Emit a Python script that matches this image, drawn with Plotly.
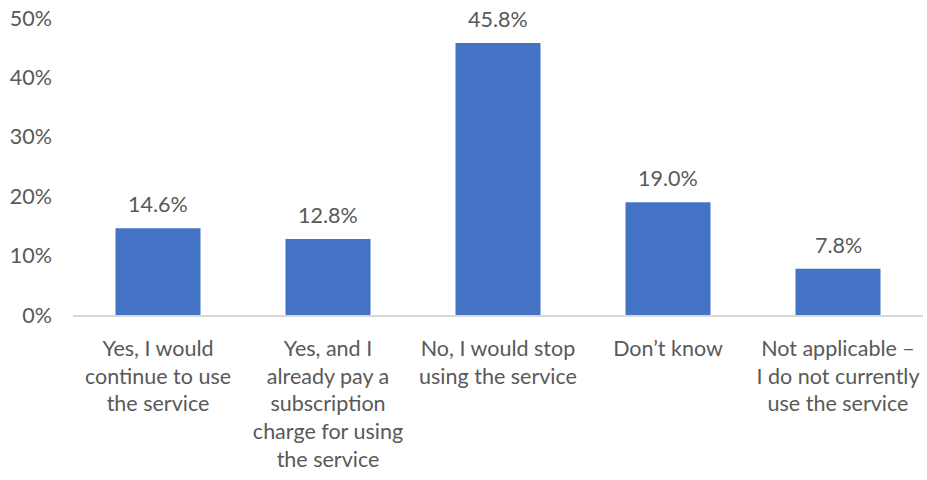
import plotly.graph_objects as go

categories = [
    "Yes, I would<br>continue to use<br>the service",
    "Yes, and I<br>already pay a<br>subscription<br>charge for using<br>the service",
    "No, I would stop<br>using the service",
    "Don\u2019t know",
    "Not applicable \u2013<br>I do not currently<br>use the service",
]
values = [14.6, 12.8, 45.8, 19.0, 7.8]
y_ticks = [0, 10, 20, 30, 40, 50]
y_tick_labels = ["0%", "10%", "20%", "30%", "40%", "50%"]

FONT = "Lato, Carlito, Calibri, sans-serif"
GRAY = "#595959"
SIZE = 21.5

fig = go.Figure(
    go.Bar(
        x=categories,
        y=values,
        marker=dict(color="#4472C4", line=dict(width=0)),
        width=0.5,
        hoverinfo="x+y",
    )
)

for c, v in zip(categories, values):
    fig.add_annotation(
        x=c, y=v, text=f"{v:.1f}%", showarrow=False,
        yanchor="bottom", yshift=9,
        font=dict(family=FONT, size=SIZE, color=GRAY),
    )

fig.update_layout(
    width=927,
    height=480,
    margin=dict(l=73, r=4, t=18, b=165),
    paper_bgcolor="white",
    plot_bgcolor="white",
    showlegend=False,
    font=dict(family=FONT, size=SIZE, color=GRAY),
)
fig.update_xaxes(
    automargin=False,
    showline=True,
    linecolor="#D9D9D9",
    linewidth=1.5,
    showgrid=False,
    ticks="",
    tickangle=0,
    tickfont=dict(family=FONT, size=SIZE, color=GRAY),
    ticklabelstandoff=13,
)
fig.update_yaxes(
    automargin=False,
    range=[0, 50],
    tickvals=y_ticks,
    ticktext=y_tick_labels,
    showgrid=False,
    zeroline=False,
    showline=False,
    ticks="",
    ticklabeloverflow="allow",
    tickfont=dict(family=FONT, size=SIZE, color=GRAY),
    ticklabelstandoff=20,
)

fig.write_html(
    "out.html",
    config={"displayModeBar": False},
    post_script="document.body.style.margin='0';document.body.style.overflow='hidden';",
)
